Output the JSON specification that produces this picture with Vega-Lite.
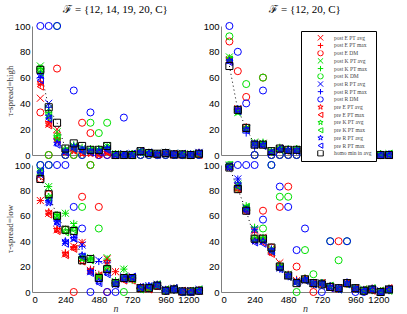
{
"$schema": "https://vega.github.io/schema/vega-lite/v6.json",
"padding": {"left": 5, "top": 4, "right": 5, "bottom": 5},
"config": {
  "font": "Liberation Sans",
  "view": {"stroke": null},
  "axis": {"domainColor": "#7f7f7f", "ticks": false, "grid": false, "labelFont": "Liberation Sans", "labelFontSize": 9.5, "labelColor": "#000", "labelPadding": 2, "titleFont": "Liberation Serif", "titleFontWeight": "normal", "titleFontSize": 9, "titleColor": "#333", "titlePadding": 0, "format": "d"},
  "title": {"font": "Liberation Serif", "fontSize": 11, "fontWeight": 400, "offset": 5, "color": "#000"},
  "legend": {"labelFont": "Liberation Serif", "labelFontSize": 5.5, "labelColor": "#444", "symbolSize": 30, "clipHeight": 5.5, "rowPadding": 0.7, "padding": 4, "strokeColor": "#000", "fillColor": "#fff", "symbolOffset": 12, "labelOffset": 10, "symbolStrokeWidth": 1}
},
"datasets": {
  "names": [{"k":"Ea","name":"post E PT avg"},{"k":"Em","name":"post E PT max"},{"k":"Ed","name":"post E DM"},{"k":"Ka","name":"post K PT avg"},{"k":"Km","name":"post K PT max"},{"k":"Kd","name":"post K DM"},{"k":"Ra","name":"post R PT avg"},{"k":"Rm","name":"post R PT max"},{"k":"Rd","name":"post R DM"},{"k":"xEa","name":"pre E PT avg"},{"k":"xEm","name":"pre E PT max"},{"k":"xKa","name":"pre K PT avg"},{"k":"xKm","name":"pre K PT max"},{"k":"xRa","name":"pre R PT avg"},{"k":"xRm","name":"pre R PT max"},{"k":"H","name":"homo min in avg"}],
  "d": [
{"p":"a","n":60,"Ea":44,"Em":55,"Ed":33,"Ka":69,"Km":67,"Kd":67,"Ra":62,"Rm":60,"Rd":100,"xEa":56,"xEm":53,"xKa":66,"xKm":64,"xRa":62,"xRm":58,"H":66},
{"p":"a","n":120,"Ea":24,"Em":26,"Ed":0,"Ka":36,"Km":33,"Kd":0,"Ra":40,"Rm":37,"Rd":100,"xEa":24,"xEm":23,"xKa":31,"xKm":29,"xRa":30,"xRm":28,"H":37},
{"p":"a","n":180,"Ea":20,"Em":17,"Ed":67,"Ka":18,"Km":15,"Kd":100,"Ra":10,"Rm":12,"Rd":100,"xEa":12,"xEm":11,"xKa":13,"xKm":14,"xRa":9,"xRm":8,"H":25},
{"p":"a","n":240,"Ea":3,"Em":4,"Ed":0,"Ka":4,"Km":5,"Kd":0,"Ra":3,"Rm":4,"Rd":0,"xEa":2,"xEm":2,"xKa":4,"xKm":3,"xRa":3,"xRm":2,"H":5},
{"p":"a","n":300,"Ea":5,"Em":6,"Ed":0,"Ka":7,"Km":8,"Kd":0,"Ra":6,"Rm":7,"Rd":50,"xEa":3,"xEm":4,"xKa":6,"xKm":5,"xRa":6,"xRm":5,"H":9},
{"p":"a","n":360,"Ea":3,"Em":4,"Ed":25,"Ka":5,"Km":6,"Kd":0,"Ra":5,"Rm":4,"Rd":0,"xEa":1,"xEm":2,"xKa":4,"xKm":3,"xRa":4,"xRm":3,"H":7},
{"p":"a","n":420,"Ea":2,"Em":3,"Ed":17,"Ka":4,"Km":5,"Kd":25,"Ra":3,"Rm":4,"Rd":33,"xEa":1,"xEm":2,"xKa":3,"xKm":4,"xRa":3,"xRm":2,"H":4},
{"p":"a","n":480,"Ea":1,"Em":2,"Ed":0,"Ka":4,"Km":5,"Kd":17,"Ra":3,"Rm":4,"Rd":0,"xEa":0,"xEm":1,"xKa":3,"xKm":4,"xRa":3,"xRm":2,"H":4},
{"p":"a","n":540,"Ea":2,"Em":3,"Ed":0,"Ka":7,"Km":6,"Kd":25,"Ra":5,"Rm":6,"Rd":0,"xEa":2,"xEm":2,"xKa":6,"xKm":5,"xRa":5,"xRm":4,"H":7},
{"p":"a","n":600,"Ea":0,"Em":1,"Ed":0,"Ka":1,"Km":1,"Kd":0,"Ra":0,"Rm":1,"Rd":0,"xEa":0,"xEm":0,"xKa":1,"xKm":0,"xRa":0,"xRm":0,"H":0},
{"p":"a","n":660,"Ea":0,"Em":0,"Ed":0,"Ka":1,"Km":0,"Kd":0,"Ra":1,"Rm":0,"Rd":29,"xEa":0,"xEm":0,"xKa":0,"xKm":0,"xRa":0,"xRm":0,"H":0},
{"p":"a","n":720,"Ea":0,"Em":1,"Ed":0,"Ka":0,"Km":1,"Kd":0,"Ra":1,"Rm":0,"Rd":0,"xEa":0,"xEm":0,"xKa":1,"xKm":0,"xRa":0,"xRm":1,"H":0},
{"p":"a","n":780,"Ea":2,"Em":3,"Ed":0,"Ka":3,"Km":2,"Kd":0,"Ra":3,"Rm":2,"Rd":0,"xEa":2,"xEm":3,"xKa":3,"xKm":2,"xRa":2,"xRm":3,"H":3},
{"p":"a","n":840,"Ea":1,"Em":2,"Ed":0,"Ka":2,"Km":1,"Kd":0,"Ra":1,"Rm":2,"Rd":0,"xEa":1,"xEm":1,"xKa":2,"xKm":1,"xRa":1,"xRm":2,"H":1.5},
{"p":"a","n":900,"Ea":1,"Em":0,"Ed":0,"Ka":1,"Km":1,"Kd":0,"Ra":1,"Rm":1,"Rd":0,"xEa":0,"xEm":1,"xKa":1,"xKm":1,"xRa":1,"xRm":0,"H":1},
{"p":"a","n":960,"Ea":1,"Em":2,"Ed":0,"Ka":2,"Km":1,"Kd":0,"Ra":2,"Rm":1,"Rd":0,"xEa":1,"xEm":1,"xKa":2,"xKm":1,"xRa":2,"xRm":1,"H":1.5},
{"p":"a","n":1020,"Ea":0,"Em":1,"Ed":0,"Ka":1,"Km":0,"Kd":0,"Ra":1,"Rm":0,"Rd":0,"xEa":0,"xEm":1,"xKa":1,"xKm":0,"xRa":1,"xRm":0,"H":0.5},
{"p":"a","n":1080,"Ea":0,"Em":1,"Ed":0,"Ka":1,"Km":0,"Kd":0,"Ra":1,"Rm":0,"Rd":0,"xEa":0,"xEm":0,"xKa":1,"xKm":0,"xRa":0,"xRm":1,"H":0.5},
{"p":"a","n":1140,"Ea":0,"Em":0,"Ed":0,"Ka":1,"Km":0,"Kd":0,"Ra":0,"Rm":1,"Rd":0,"xEa":0,"xEm":0,"xKa":0,"xKm":0,"xRa":0,"xRm":0,"H":0},
{"p":"a","n":1200,"Ea":1,"Em":2,"Ed":0,"Ka":1,"Km":1,"Kd":0,"Ra":2,"Rm":1,"Rd":0,"xEa":1,"xEm":0,"xKa":1,"xKm":1,"xRa":2,"xRm":1,"H":1},
{"p":"b","n":60,"Ea":74,"Em":75,"Ed":88,"Ka":76,"Km":75,"Kd":92,"Ra":73,"Rm":74,"Rd":100,"xEa":74,"xEm":73,"xKa":75,"xKm":74,"xRa":73,"xRm":72,"H":69},
{"p":"b","n":120,"Ea":36,"Em":35,"Ed":65,"Ka":33,"Km":34,"Kd":35,"Ra":35,"Rm":36,"Rd":80,"xEa":35,"xEm":34,"xKa":33,"xKm":34,"xRa":35,"xRm":34,"H":35},
{"p":"b","n":180,"Ea":21,"Em":22,"Ed":45,"Ka":20,"Km":21,"Kd":55,"Ra":20,"Rm":17,"Rd":40,"xEa":21,"xEm":20,"xKa":21,"xKm":20,"xRa":20,"xRm":19,"H":21},
{"p":"b","n":240,"Ea":9,"Em":8,"Ed":0,"Ka":10,"Km":9,"Kd":0,"Ra":9,"Rm":6,"Rd":0,"xEa":9,"xEm":8,"xKa":9,"xKm":8,"xRa":9,"xRm":8,"H":8},
{"p":"b","n":300,"Ea":9,"Em":8,"Ed":60,"Ka":9,"Km":10,"Kd":60,"Ra":8,"Rm":9,"Rd":50,"xEa":8,"xEm":8,"xKa":9,"xKm":8,"xRa":8,"xRm":7,"H":8},
{"p":"b","n":360,"Ea":3,"Em":2,"Ed":0,"Ka":3,"Km":2,"Kd":0,"Ra":2,"Rm":3,"Rd":0,"xEa":2,"xEm":2,"xKa":3,"xKm":2,"xRa":2,"xRm":2,"H":3},
{"p":"b","n":420,"Ea":5,"Em":4,"Ed":0,"Ka":5,"Km":6,"Kd":0,"Ra":4,"Rm":5,"Rd":0,"xEa":4,"xEm":5,"xKa":5,"xKm":4,"xRa":4,"xRm":5,"H":5},
{"p":"b","n":480,"Ea":4,"Em":3,"Ed":0,"Ka":4,"Km":5,"Kd":0,"Ra":3,"Rm":4,"Rd":0,"xEa":4,"xEm":3,"xKa":4,"xKm":3,"xRa":4,"xRm":3,"H":4},
{"p":"b","n":540,"Ea":4,"Em":5,"Ed":0,"Ka":4,"Km":5,"Kd":0,"Ra":4,"Rm":3,"Rd":0,"xEa":4,"xEm":4,"xKa":5,"xKm":4,"xRa":4,"xRm":3,"H":4},
{"p":"b","n":600,"Ea":2,"Em":1,"Ed":0,"Ka":2,"Km":3,"Kd":0,"Ra":2,"Rm":1,"Rd":0,"xEa":2,"xEm":2,"xKa":2,"xKm":1,"xRa":2,"xRm":1,"H":2},
{"p":"b","n":660,"Ea":2,"Em":3,"Ed":0,"Ka":2,"Km":1,"Kd":0,"Ra":2,"Rm":3,"Rd":0,"xEa":2,"xEm":1,"xKa":2,"xKm":2,"xRa":2,"xRm":1,"H":2},
{"p":"b","n":720,"Ea":3,"Em":2,"Ed":0,"Ka":3,"Km":4,"Kd":0,"Ra":2,"Rm":3,"Rd":0,"xEa":3,"xEm":2,"xKa":3,"xKm":2,"xRa":2,"xRm":3,"H":3},
{"p":"b","n":780,"Ea":4,"Em":3,"Ed":0,"Ka":4,"Km":5,"Kd":0,"Ra":4,"Rm":3,"Rd":0,"xEa":4,"xEm":3,"xKa":4,"xKm":4,"xRa":3,"xRm":4,"H":4},
{"p":"b","n":840,"Ea":0,"Em":1,"Ed":0,"Ka":1,"Km":0,"Kd":0,"Ra":0,"Rm":1,"Rd":0,"xEa":0,"xEm":1,"xKa":1,"xKm":0,"xRa":0,"xRm":1,"H":0.5},
{"p":"b","n":900,"Ea":1,"Em":2,"Ed":0,"Ka":1,"Km":1,"Kd":0,"Ra":1,"Rm":2,"Rd":0,"xEa":1,"xEm":1,"xKa":1,"xKm":2,"xRa":1,"xRm":1,"H":1},
{"p":"b","n":960,"Ea":0,"Em":1,"Ed":0,"Ka":1,"Km":0,"Kd":0,"Ra":1,"Rm":0,"Rd":0,"xEa":0,"xEm":1,"xKa":0,"xKm":1,"xRa":1,"xRm":0,"H":0.5},
{"p":"b","n":1020,"Ea":0,"Em":0,"Ed":0,"Ka":1,"Km":0,"Kd":0,"Ra":0,"Rm":1,"Rd":0,"xEa":0,"xEm":0,"xKa":0,"xKm":0,"xRa":0,"xRm":0,"H":0},
{"p":"b","n":1080,"Ea":0,"Em":0,"Ed":0,"Ka":0,"Km":1,"Kd":0,"Ra":1,"Rm":0,"Rd":0,"xEa":0,"xEm":0,"xKa":0,"xKm":0,"xRa":0,"xRm":1,"H":0},
{"p":"b","n":1140,"Ea":0,"Em":1,"Ed":0,"Ka":0,"Km":0,"Kd":0,"Ra":0,"Rm":0,"Rd":0,"xEa":0,"xEm":0,"xKa":1,"xKm":0,"xRa":0,"xRm":0,"H":0},
{"p":"b","n":1200,"Ea":0,"Em":0,"Ed":0,"Ka":1,"Km":0,"Kd":0,"Ra":0,"Rm":1,"Rd":0,"xEa":0,"xEm":0,"xKa":0,"xKm":1,"xRa":0,"xRm":0,"H":0},
{"p":"c","n":60,"Ea":72,"Em":72,"Ed":89,"Ka":95,"Km":93,"Kd":100,"Ra":92,"Rm":94,"Rd":100,"xEa":93,"xEm":91,"xKa":95,"xKm":94,"xRa":93,"xRm":95,"H":89},
{"p":"c","n":120,"Ea":62,"Em":62,"Ed":77,"Ka":83,"Km":83,"Kd":100,"Ra":71,"Rm":72,"Rd":100,"xEa":63,"xEm":61,"xKa":75,"xKm":74,"xRa":70,"xRm":72,"H":77},
{"p":"c","n":180,"Ea":49,"Em":50,"Ed":60,"Ka":60,"Km":61,"Kd":60,"Ra":55,"Rm":56,"Rd":100,"xEa":49,"xEm":48,"xKa":59,"xKm":58,"xRa":55,"xRm":54,"H":60},
{"p":"c","n":240,"Ea":30,"Em":31,"Ed":49,"Ka":62,"Km":62,"Kd":49,"Ra":39,"Rm":40,"Rd":100,"xEa":30,"xEm":29,"xKa":48,"xKm":47,"xRa":40,"xRm":38,"H":49},
{"p":"c","n":300,"Ea":36,"Em":35,"Ed":0,"Ka":53,"Km":54,"Kd":48,"Ra":42,"Rm":43,"Rd":67,"xEa":35,"xEm":34,"xKa":50,"xKm":49,"xRa":42,"xRm":42,"H":48},
{"p":"c","n":360,"Ea":39,"Em":39,"Ed":75,"Ka":27,"Km":28,"Kd":67,"Ra":37,"Rm":36,"Rd":50,"xEa":24,"xEm":24,"xKa":26,"xKm":27,"xRa":29,"xRm":28,"H":25},
{"p":"c","n":420,"Ea":17,"Em":18,"Ed":100,"Ka":27,"Km":26,"Kd":100,"Ra":16,"Rm":17,"Rd":0,"xEa":17,"xEm":16,"xKa":26,"xKm":25,"xRa":16,"xRm":15,"H":26},
{"p":"c","n":480,"Ea":13,"Em":14,"Ed":67,"Ka":12,"Km":13,"Kd":50,"Ra":25,"Rm":24,"Rd":11,"xEa":12,"xEm":13,"xKa":12,"xKm":11,"xRa":8,"xRm":7,"H":11},
{"p":"c","n":540,"Ea":26,"Em":25,"Ed":0,"Ka":27,"Km":26,"Kd":18,"Ra":22,"Rm":23,"Rd":0,"xEa":24,"xEm":17,"xKa":19,"xKm":18,"xRa":15,"xRm":14,"H":18},
{"p":"c","n":600,"Ea":16,"Em":16,"Ed":7,"Ka":8,"Km":9,"Kd":7,"Ra":6,"Rm":7,"Rd":0,"xEa":8,"xEm":7,"xKa":8,"xKm":7,"xRa":7,"xRm":6,"H":7},
{"p":"c","n":660,"Ea":11,"Em":10,"Ed":11,"Ka":18,"Km":18,"Kd":0,"Ra":12,"Rm":11,"Rd":11,"xEa":10,"xEm":9,"xKa":11,"xKm":12,"xRa":11,"xRm":10,"H":11},
{"p":"c","n":720,"Ea":12,"Em":11,"Ed":11,"Ka":10,"Km":9,"Kd":11,"Ra":12,"Rm":11,"Rd":11,"xEa":10,"xEm":9,"xKa":11,"xKm":10,"xRa":11,"xRm":12,"H":11},
{"p":"c","n":780,"Ea":3,"Em":4,"Ed":3,"Ka":3,"Km":2,"Kd":3,"Ra":3,"Rm":4,"Rd":3,"xEa":2,"xEm":3,"xKa":3,"xKm":2,"xRa":3,"xRm":4,"H":3},
{"p":"c","n":840,"Ea":2,"Em":3,"Ed":3,"Ka":4,"Km":3,"Kd":3,"Ra":5,"Rm":4,"Rd":3,"xEa":3,"xEm":2,"xKa":3,"xKm":4,"xRa":5,"xRm":4,"H":3},
{"p":"c","n":900,"Ea":5,"Em":6,"Ed":5,"Ka":5,"Km":6,"Kd":5,"Ra":6,"Rm":5,"Rd":5,"xEa":4,"xEm":5,"xKa":5,"xKm":6,"xRa":6,"xRm":5,"H":5},
{"p":"c","n":960,"Ea":1,"Em":2,"Ed":1,"Ka":2,"Km":1,"Kd":1,"Ra":2,"Rm":1,"Rd":1,"xEa":1,"xEm":2,"xKa":1,"xKm":2,"xRa":2,"xRm":1,"H":1},
{"p":"c","n":1020,"Ea":2,"Em":3,"Ed":2,"Ka":2,"Km":3,"Kd":2,"Ra":3,"Rm":2,"Rd":2,"xEa":2,"xEm":3,"xKa":2,"xKm":3,"xRa":2,"xRm":3,"H":2},
{"p":"c","n":1080,"Ea":0,"Em":1,"Ed":0,"Ka":1,"Km":0,"Kd":0,"Ra":1,"Rm":0,"Rd":0,"xEa":0,"xEm":1,"xKa":1,"xKm":0,"xRa":1,"xRm":0,"H":0.5},
{"p":"c","n":1140,"Ea":0,"Em":1,"Ed":0,"Ka":0,"Km":1,"Kd":0,"Ra":1,"Rm":0,"Rd":0,"xEa":1,"xEm":0,"xKa":0,"xKm":1,"xRa":0,"xRm":0,"H":0.5},
{"p":"c","n":1200,"Ea":1,"Em":2,"Ed":1,"Ka":1,"Km":1,"Kd":1,"Ra":2,"Rm":1,"Rd":1,"xEa":1,"xEm":1,"xKa":1,"xKm":2,"xRa":1,"xRm":1,"H":1},
{"p":"d","n":60,"Ea":99,"Em":98,"Ed":99,"Ka":100,"Km":99,"Kd":100,"Ra":99,"Rm":98,"Rd":99,"xEa":98,"xEm":99,"xKa":99,"xKm":100,"xRa":98,"xRm":99,"H":98},
{"p":"d","n":120,"Ea":83,"Em":84,"Ed":81,"Ka":85,"Km":84,"Kd":82,"Ra":89,"Rm":89,"Rd":100,"xEa":82,"xEm":81,"xKa":83,"xKm":84,"xRa":85,"xRm":83,"H":81},
{"p":"d","n":180,"Ea":66,"Em":65,"Ed":64,"Ka":67,"Km":68,"Kd":65,"Ra":66,"Rm":64,"Rd":100,"xEa":65,"xEm":64,"xKa":66,"xKm":67,"xRa":65,"xRm":64,"H":64},
{"p":"d","n":240,"Ea":48,"Em":47,"Ed":42,"Ka":50,"Km":51,"Kd":42,"Ra":49,"Rm":49,"Rd":100,"xEa":40,"xEm":41,"xKa":42,"xKm":41,"xRa":40,"xRm":39,"H":42},
{"p":"d","n":300,"Ea":43,"Em":42,"Ed":64,"Ka":42,"Km":43,"Kd":50,"Ra":40,"Rm":41,"Rd":57,"xEa":40,"xEm":39,"xKa":42,"xKm":41,"xRa":40,"xRm":38,"H":42},
{"p":"d","n":360,"Ea":33,"Em":31,"Ed":35,"Ka":34,"Km":33,"Kd":100,"Ra":32,"Rm":34,"Rd":100,"xEa":31,"xEm":30,"xKa":33,"xKm":32,"xRa":33,"xRm":32,"H":35},
{"p":"d","n":420,"Ea":23,"Em":22,"Ed":67,"Ka":20,"Km":21,"Kd":75,"Ra":19,"Rm":18,"Rd":83,"xEa":20,"xEm":19,"xKa":20,"xKm":19,"xRa":19,"xRm":18,"H":20},
{"p":"d","n":480,"Ea":13,"Em":14,"Ed":83,"Ka":14,"Km":13,"Kd":75,"Ra":13,"Rm":12,"Rd":67,"xEa":13,"xEm":12,"xKa":13,"xKm":12,"xRa":13,"xRm":12,"H":13},
{"p":"d","n":540,"Ea":9,"Em":10,"Ed":20,"Ka":8,"Km":9,"Kd":0,"Ra":8,"Rm":9,"Rd":33,"xEa":8,"xEm":7,"xKa":8,"xKm":7,"xRa":8,"xRm":7,"H":7},
{"p":"d","n":600,"Ea":10,"Em":11,"Ed":10,"Ka":10,"Km":11,"Kd":33,"Ra":9,"Rm":10,"Rd":50,"xEa":10,"xEm":9,"xKa":10,"xKm":9,"xRa":10,"xRm":9,"H":10},
{"p":"d","n":660,"Ea":7,"Em":6,"Ed":0,"Ka":7,"Km":6,"Kd":14,"Ra":7,"Rm":6,"Rd":7,"xEa":6,"xEm":7,"xKa":7,"xKm":6,"xRa":7,"xRm":6,"H":7},
{"p":"d","n":720,"Ea":7,"Em":6,"Ed":7,"Ka":7,"Km":6,"Kd":7,"Ra":7,"Rm":6,"Rd":0,"xEa":6,"xEm":7,"xKa":7,"xKm":6,"xRa":7,"xRm":6,"H":6},
{"p":"d","n":780,"Ea":4,"Em":5,"Ed":4,"Ka":4,"Km":5,"Kd":40,"Ra":4,"Rm":5,"Rd":40,"xEa":4,"xEm":3,"xKa":4,"xKm":5,"xRa":4,"xRm":3,"H":4},
{"p":"d","n":840,"Ea":3,"Em":2,"Ed":40,"Ka":3,"Km":2,"Kd":25,"Ra":3,"Rm":2,"Rd":3,"xEa":2,"xEm":3,"xKa":3,"xKm":2,"xRa":3,"xRm":2,"H":3},
{"p":"d","n":900,"Ea":7,"Em":6,"Ed":7,"Ka":7,"Km":6,"Kd":40,"Ra":7,"Rm":8,"Rd":40,"xEa":6,"xEm":7,"xKa":7,"xKm":6,"xRa":7,"xRm":6,"H":7},
{"p":"d","n":960,"Ea":3,"Em":2,"Ed":3,"Ka":3,"Km":2,"Kd":3,"Ra":3,"Rm":2,"Rd":0,"xEa":2,"xEm":3,"xKa":3,"xKm":2,"xRa":3,"xRm":2,"H":3},
{"p":"d","n":1020,"Ea":1,"Em":2,"Ed":1,"Ka":2,"Km":1,"Kd":1,"Ra":1,"Rm":2,"Rd":0,"xEa":1,"xEm":2,"xKa":1,"xKm":2,"xRa":1,"xRm":1,"H":1},
{"p":"d","n":1080,"Ea":2,"Em":3,"Ed":2,"Ka":2,"Km":1,"Kd":2,"Ra":2,"Rm":3,"Rd":2,"xEa":2,"xEm":1,"xKa":2,"xKm":3,"xRa":2,"xRm":2,"H":2},
{"p":"d","n":1140,"Ea":0,"Em":1,"Ed":0,"Ka":0,"Km":1,"Kd":0,"Ra":1,"Rm":0,"Rd":0,"xEa":0,"xEm":1,"xKa":0,"xKm":1,"xRa":0,"xRm":0,"H":0},
{"p":"d","n":1200,"Ea":2,"Em":3,"Ed":2,"Ka":2,"Km":3,"Kd":2,"Ra":2,"Rm":1,"Rd":2,"xEa":2,"xEm":3,"xKa":2,"xKm":1,"xRa":2,"xRm":2,"H":2}
  ]
},
"data": {"name": "d"},
"transform": [
  {"fold": ["Ea","Em","Ed","Ka","Km","Kd","Ra","Rm","Rd","xEa","xEm","xKa","xKm","xRa","xRm","H"], "as": ["k","v"]},
  {"lookup": "k", "from": {"data": {"name": "names"}, "key": "k", "fields": ["name"]}}
],
"columns": 2,
"spacing": {"row": 10, "column": 22},
"bounds": "flush",
"resolve": {"legend": {"color": "independent", "shape": "independent"}},
"concat": [
{
  "width": 167, "height": 129,
  "title": {"text": "ℱ = {12, 14, 19, 20, C}", "fontWeight": 400},
  "transform": [{"filter": "datum.p == 'a'"}],
  "encoding": {
    "x": {"field": "n", "type": "quantitative", "scale": {"domain": [0,1200], "nice": false}, "axis": {"values": [0,240,480,720,960,1200], "labels": false, "title": null}},
    "y": {"field": "v", "type": "quantitative", "scale": {"domain": [0,100], "nice": false}, "axis": {"values": [0,20,40,60,80,100], "title": "τ-spread=high"}}
  },
  "layer": [
    {"transform": [{"filter": "datum.k == 'H'"}], "mark": {"type": "line", "color": "#000", "strokeWidth": 1, "strokeDash": [1,3]}},
    {"mark": {"type": "point", "filled": false, "size": 50, "strokeWidth": 1, "opacity": 1},
     "encoding": {
       "color": {"field": "name", "type": "nominal", "legend": null, "scale": {"domain": ["post E PT avg","post E PT max","post E DM","post K PT avg","post K PT max","post K DM","post R PT avg","post R PT max","post R DM","pre E PT avg","pre E PT max","pre K PT avg","pre K PT max","pre R PT avg","pre R PT max","homo min in avg"], "range": ["#ff0000","#ff0000","#ff0000","#00e000","#00e000","#00e000","#0000ff","#0000ff","#0000ff","#ff0000","#ff0000","#00e000","#00e000","#0000ff","#0000ff","#000000"]}},
       "shape": {"field": "name", "type": "nominal", "legend": null, "scale": {"domain": ["post E PT avg","post E PT max","post E DM","post K PT avg","post K PT max","post K DM","post R PT avg","post R PT max","post R DM","pre E PT avg","pre E PT max","pre K PT avg","pre K PT max","pre R PT avg","pre R PT max","homo min in avg"], "range": ["M-1,-1L1,1M-1,1L1,-1","M-1,0L1,0M0,-1L0,1","circle","M-1,-1L1,1M-1,1L1,-1","M-1,0L1,0M0,-1L0,1","circle","M-1,-1L1,1M-1,1L1,-1","M-1,0L1,0M0,-1L0,1","circle","M0,-1L0.225,-0.309L0.951,-0.309L0.363,0.118L0.588,0.809L0,0.382L-0.588,0.809L-0.363,0.118L-0.951,-0.309L-0.225,-0.309Z","triangle-left","M0,-1L0.225,-0.309L0.951,-0.309L0.363,0.118L0.588,0.809L0,0.382L-0.588,0.809L-0.363,0.118L-0.951,-0.309L-0.225,-0.309Z","triangle-left","M0,-1L0.225,-0.309L0.951,-0.309L0.363,0.118L0.588,0.809L0,0.382L-0.588,0.809L-0.363,0.118L-0.951,-0.309L-0.225,-0.309Z","triangle-left","square"]}}
     }}
  ]
},
{
  "width": 168, "height": 129,
  "title": {"text": "ℱ = {12, 20, C}", "fontWeight": 400},
  "transform": [{"filter": "datum.p == 'b'"}],
  "encoding": {
    "x": {"field": "n", "type": "quantitative", "scale": {"domain": [0,1200], "nice": false}, "axis": {"values": [0,240,480,720,960,1200], "labels": false, "title": null}},
    "y": {"field": "v", "type": "quantitative", "scale": {"domain": [0,100], "nice": false}, "axis": {"values": [0,20,40,60,80,100], "title": null}}
  },
  "layer": [
    {"transform": [{"filter": "datum.k == 'H'"}], "mark": {"type": "line", "color": "#000", "strokeWidth": 1, "strokeDash": [1,3]}},
    {"mark": {"type": "point", "filled": false, "size": 50, "strokeWidth": 1, "opacity": 1},
     "encoding": {
       "color": {"field": "name", "type": "nominal", "legend": {"title": null, "orient": "none", "legendX": 80, "legendY": 5}, "scale": {"domain": ["post E PT avg","post E PT max","post E DM","post K PT avg","post K PT max","post K DM","post R PT avg","post R PT max","post R DM","pre E PT avg","pre E PT max","pre K PT avg","pre K PT max","pre R PT avg","pre R PT max","homo min in avg"], "range": ["#ff0000","#ff0000","#ff0000","#00e000","#00e000","#00e000","#0000ff","#0000ff","#0000ff","#ff0000","#ff0000","#00e000","#00e000","#0000ff","#0000ff","#000000"]}},
       "shape": {"field": "name", "type": "nominal", "legend": {"title": null, "orient": "none", "legendX": 80, "legendY": 5}, "scale": {"domain": ["post E PT avg","post E PT max","post E DM","post K PT avg","post K PT max","post K DM","post R PT avg","post R PT max","post R DM","pre E PT avg","pre E PT max","pre K PT avg","pre K PT max","pre R PT avg","pre R PT max","homo min in avg"], "range": ["M-1,-1L1,1M-1,1L1,-1","M-1,0L1,0M0,-1L0,1","circle","M-1,-1L1,1M-1,1L1,-1","M-1,0L1,0M0,-1L0,1","circle","M-1,-1L1,1M-1,1L1,-1","M-1,0L1,0M0,-1L0,1","circle","M0,-1L0.225,-0.309L0.951,-0.309L0.363,0.118L0.588,0.809L0,0.382L-0.588,0.809L-0.363,0.118L-0.951,-0.309L-0.225,-0.309Z","triangle-left","M0,-1L0.225,-0.309L0.951,-0.309L0.363,0.118L0.588,0.809L0,0.382L-0.588,0.809L-0.363,0.118L-0.951,-0.309L-0.225,-0.309Z","triangle-left","M0,-1L0.225,-0.309L0.951,-0.309L0.363,0.118L0.588,0.809L0,0.382L-0.588,0.809L-0.363,0.118L-0.951,-0.309L-0.225,-0.309Z","triangle-left","square"]}}
     }}
  ]
},
{
  "width": 167, "height": 127,
  "transform": [{"filter": "datum.p == 'c'"}],
  "encoding": {
    "x": {"field": "n", "type": "quantitative", "scale": {"domain": [0,1200], "nice": false}, "axis": {"values": [0,240,480,720,960,1200], "title": "n", "titleFontStyle": "italic", "titleFontSize": 10, "titlePadding": 0}},
    "y": {"field": "v", "type": "quantitative", "scale": {"domain": [0,100], "nice": false}, "axis": {"values": [0,20,40,60,80,100], "title": "τ-spread=low"}}
  },
  "layer": [
    {"transform": [{"filter": "datum.k == 'H'"}], "mark": {"type": "line", "color": "#000", "strokeWidth": 1, "strokeDash": [1,3]}},
    {"mark": {"type": "point", "filled": false, "size": 50, "strokeWidth": 1, "opacity": 1},
     "encoding": {
       "color": {"field": "name", "type": "nominal", "legend": null, "scale": {"domain": ["post E PT avg","post E PT max","post E DM","post K PT avg","post K PT max","post K DM","post R PT avg","post R PT max","post R DM","pre E PT avg","pre E PT max","pre K PT avg","pre K PT max","pre R PT avg","pre R PT max","homo min in avg"], "range": ["#ff0000","#ff0000","#ff0000","#00e000","#00e000","#00e000","#0000ff","#0000ff","#0000ff","#ff0000","#ff0000","#00e000","#00e000","#0000ff","#0000ff","#000000"]}},
       "shape": {"field": "name", "type": "nominal", "legend": null, "scale": {"domain": ["post E PT avg","post E PT max","post E DM","post K PT avg","post K PT max","post K DM","post R PT avg","post R PT max","post R DM","pre E PT avg","pre E PT max","pre K PT avg","pre K PT max","pre R PT avg","pre R PT max","homo min in avg"], "range": ["M-1,-1L1,1M-1,1L1,-1","M-1,0L1,0M0,-1L0,1","circle","M-1,-1L1,1M-1,1L1,-1","M-1,0L1,0M0,-1L0,1","circle","M-1,-1L1,1M-1,1L1,-1","M-1,0L1,0M0,-1L0,1","circle","M0,-1L0.225,-0.309L0.951,-0.309L0.363,0.118L0.588,0.809L0,0.382L-0.588,0.809L-0.363,0.118L-0.951,-0.309L-0.225,-0.309Z","triangle-left","M0,-1L0.225,-0.309L0.951,-0.309L0.363,0.118L0.588,0.809L0,0.382L-0.588,0.809L-0.363,0.118L-0.951,-0.309L-0.225,-0.309Z","triangle-left","M0,-1L0.225,-0.309L0.951,-0.309L0.363,0.118L0.588,0.809L0,0.382L-0.588,0.809L-0.363,0.118L-0.951,-0.309L-0.225,-0.309Z","triangle-left","square"]}}
     }}
  ]
},
{
  "width": 168, "height": 127,
  "transform": [{"filter": "datum.p == 'd'"}],
  "encoding": {
    "x": {"field": "n", "type": "quantitative", "scale": {"domain": [0,1200], "nice": false}, "axis": {"values": [0,240,480,720,960,1200], "title": "n", "titleFontStyle": "italic", "titleFontSize": 10, "titlePadding": 0}},
    "y": {"field": "v", "type": "quantitative", "scale": {"domain": [0,100], "nice": false}, "axis": {"values": [0,20,40,60,80,100], "title": null}}
  },
  "layer": [
    {"transform": [{"filter": "datum.k == 'H'"}], "mark": {"type": "line", "color": "#000", "strokeWidth": 1, "strokeDash": [1,3]}},
    {"mark": {"type": "point", "filled": false, "size": 50, "strokeWidth": 1, "opacity": 1},
     "encoding": {
       "color": {"field": "name", "type": "nominal", "legend": null, "scale": {"domain": ["post E PT avg","post E PT max","post E DM","post K PT avg","post K PT max","post K DM","post R PT avg","post R PT max","post R DM","pre E PT avg","pre E PT max","pre K PT avg","pre K PT max","pre R PT avg","pre R PT max","homo min in avg"], "range": ["#ff0000","#ff0000","#ff0000","#00e000","#00e000","#00e000","#0000ff","#0000ff","#0000ff","#ff0000","#ff0000","#00e000","#00e000","#0000ff","#0000ff","#000000"]}},
       "shape": {"field": "name", "type": "nominal", "legend": null, "scale": {"domain": ["post E PT avg","post E PT max","post E DM","post K PT avg","post K PT max","post K DM","post R PT avg","post R PT max","post R DM","pre E PT avg","pre E PT max","pre K PT avg","pre K PT max","pre R PT avg","pre R PT max","homo min in avg"], "range": ["M-1,-1L1,1M-1,1L1,-1","M-1,0L1,0M0,-1L0,1","circle","M-1,-1L1,1M-1,1L1,-1","M-1,0L1,0M0,-1L0,1","circle","M-1,-1L1,1M-1,1L1,-1","M-1,0L1,0M0,-1L0,1","circle","M0,-1L0.225,-0.309L0.951,-0.309L0.363,0.118L0.588,0.809L0,0.382L-0.588,0.809L-0.363,0.118L-0.951,-0.309L-0.225,-0.309Z","triangle-left","M0,-1L0.225,-0.309L0.951,-0.309L0.363,0.118L0.588,0.809L0,0.382L-0.588,0.809L-0.363,0.118L-0.951,-0.309L-0.225,-0.309Z","triangle-left","M0,-1L0.225,-0.309L0.951,-0.309L0.363,0.118L0.588,0.809L0,0.382L-0.588,0.809L-0.363,0.118L-0.951,-0.309L-0.225,-0.309Z","triangle-left","square"]}}
     }}
  ]
}
]
}
